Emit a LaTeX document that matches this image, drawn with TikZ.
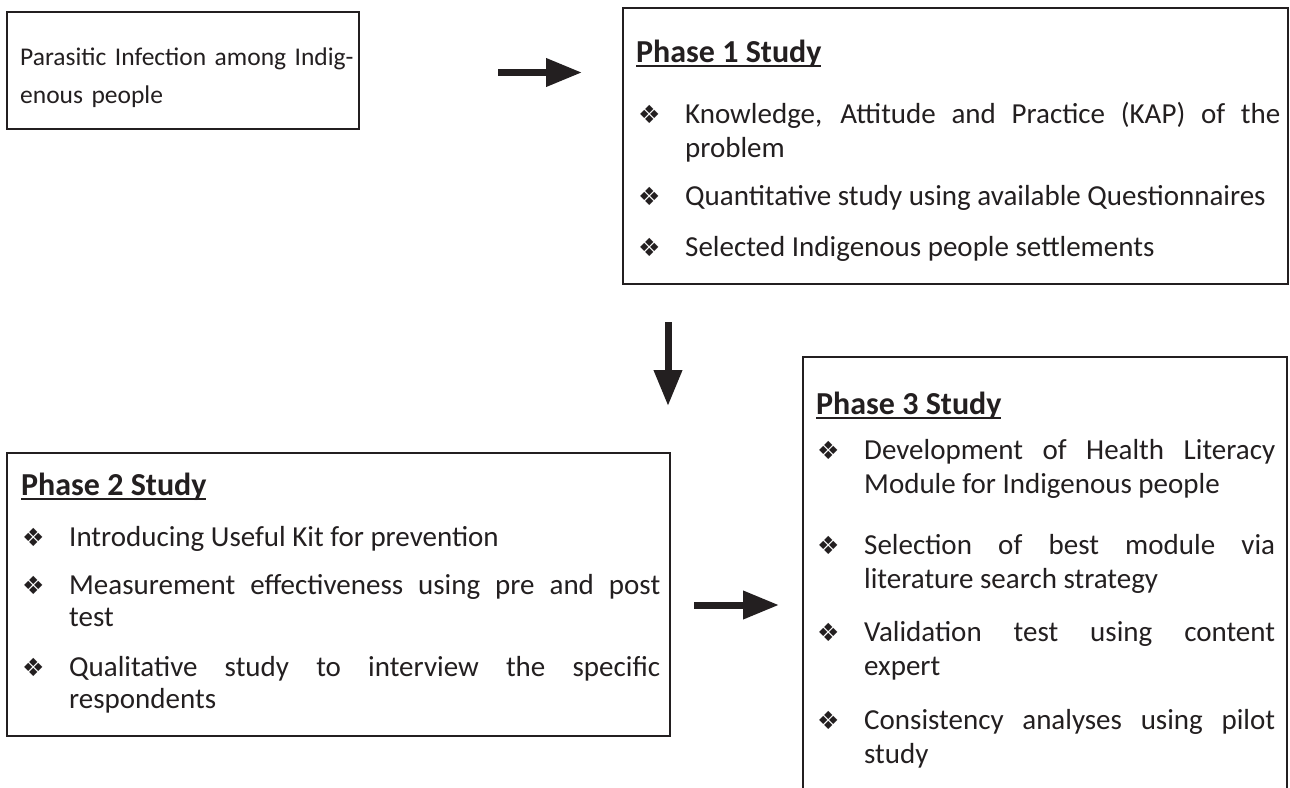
\documentclass[tikz,border=0pt]{standalone}
\usepackage{fontspec}
\setmainfont{Carlito}
\newfontfamily\dingfont{DejaVu Sans}
\usetikzlibrary{arrows.meta}
\definecolor{ink}{HTML}{231F20}
\hyphenpenalty=10000
\tolerance=9999
\emergencystretch=20pt
\newcommand{\myul}[1]{\setbox0\hbox{#1}\rlap{\rule[-4.5pt]{\wd0}{1.8pt}}\box0}
\newcommand{\bul}[1]{\noindent\hangindent=48pt\hangafter=1\makebox[48pt][l]{\hspace*{1pt}\raisebox{0pt}{\dingfont\fontsize{25}{25}\selectfont ❖}}#1\par}
\begin{document}
\begin{tikzpicture}[x=1pt,y=-1pt,
  frame/.style={draw=ink, line width=1.2pt, inner sep=0pt, outer sep=0pt, anchor=north west},
  ttl/.style={anchor=base west, inner sep=0pt, font=\fontsize{32}{34}\selectfont\bfseries, text=ink},
  para/.style={anchor=base west, inner sep=0pt, text width=#1, text=ink, align=justify,
    font=\fontsize{29}{34}\selectfont},
  parac/.style={para=#1, font=\fontsize{29}{32.5}\selectfont},
  blockarrow/.style={draw=ink, line width=7pt, -{Triangle[length=36pt,width=27pt]}},
]
\path[use as bounding box, clip] (0,0) rectangle (1290,787);
\fill[white] (0,0) rectangle (1290,787);

% Box A
\node[frame, minimum width=352pt, minimum height=117pt] (boxA) at (7,12) {};
\node[anchor=base west, inner sep=0pt, text width=345pt, text=ink, align=left,
  font=\fontsize{25.5}{38}\selectfont] (txtA) at (20,65) {Parasitic Infection among Indig-\\enous people};

% Arrow 1
\coordinate (a1s) at (498,72.5);
\coordinate (a1e) at (582,72.5);
\draw[blockarrow] (a1s) -- (a1e);

% Box B
\node[frame, minimum width=665pt, minimum height=276pt] (boxB) at (623,8) {};
\node[ttl] (tB) at (636,62) {\myul{Phase 1 Study}};
\node[para=643pt] (b1) at (637,123) {\bul{Knowledge, Attitude and Practice (KAP) of the\linebreak problem}};
\node[para=643pt] (b2) at (637,205) {\bul{Quantitative study using available Questionnaires}};
\node[para=643pt] (b3) at (637,256) {\bul{Selected Indigenous people settlements}};

% Arrow 2 (down)
\coordinate (a2s) at (668,322);
\coordinate (a2e) at (668,406);
\draw[blockarrow] (a2s) -- (a2e);

% Box C
\node[frame, minimum width=663pt, minimum height=283pt] (boxC) at (7,453) {};
\node[ttl] (tC) at (21,495) {\myul{Phase 2 Study}};
\node[parac=639pt] (c1) at (21,546) {\bul{Introducing Useful Kit for prevention}};
\node[parac=639pt] (c2) at (21,594) {\bul{Measurement effectiveness using pre and post\linebreak test}};
\node[parac=639pt] (c3) at (21,676) {\bul{Qualitative study to interview the specific\linebreak respondents}};

% Arrow 3
\coordinate (a3s) at (694,605);
\coordinate (a3e) at (779,605);
\draw[blockarrow] (a3s) -- (a3e);

% Box D
\node[frame, minimum width=484pt, minimum height=460pt] (boxD) at (803,357) {};
\node[ttl] (tD) at (816,414) {\myul{Phase 3 Study}};
\node[para=459pt] (d1) at (816,459) {\bul{Development of Health Literacy\linebreak Module for Indigenous people}};
\node[para=459pt] (d2) at (816,554) {\bul{Selection of best module via\linebreak literature search strategy}};
\node[para=459pt] (d3) at (816,641) {\bul{Validation test using content\linebreak expert}};
\node[para=459pt] (d4) at (816,729) {\bul{Consistency analyses using pilot\linebreak study}};
\end{tikzpicture}
\end{document}
